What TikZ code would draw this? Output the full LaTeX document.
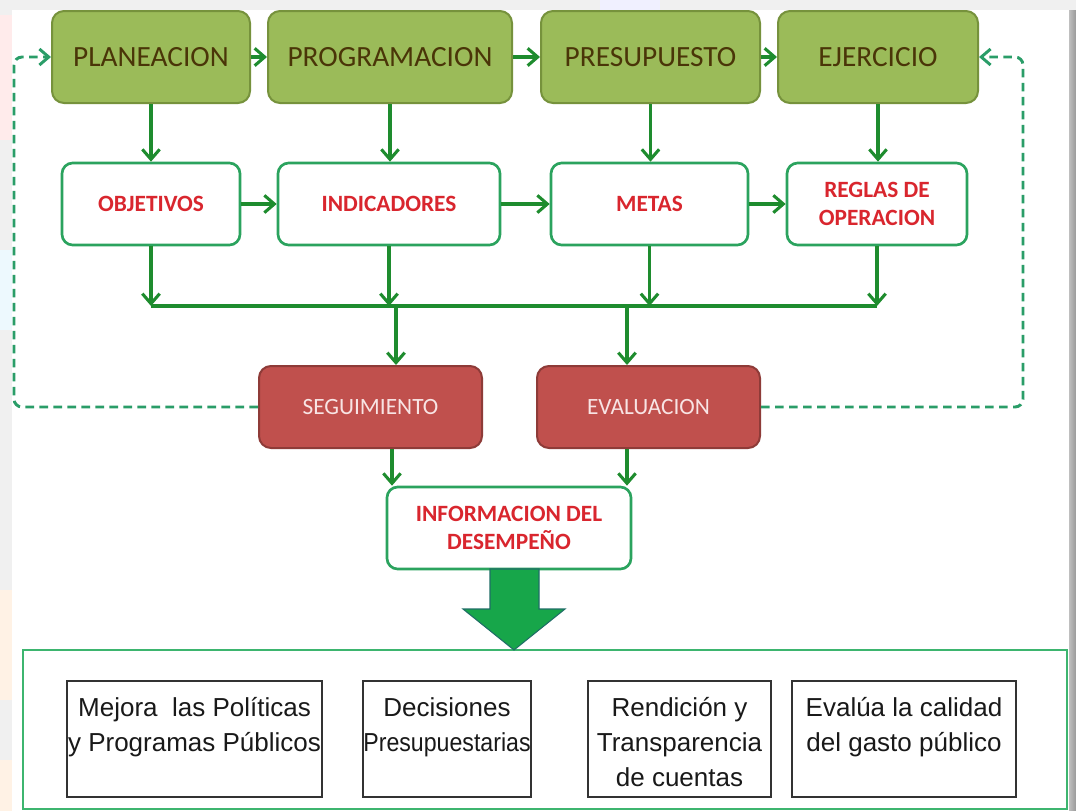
\documentclass[tikz,border=0pt]{standalone}
\usepackage{fontspec}
\usepackage{graphicx}
\setmainfont{Liberation Sans}
\newfontfamily\calfont{Carlito}
\usetikzlibrary{arrows.meta}
\definecolor{topfill}{HTML}{9BBB59}
\definecolor{topbd}{HTML}{76923C}
\definecolor{toptext}{HTML}{4A3508}
\definecolor{midbd}{HTML}{2BA35E}
\definecolor{redtext}{HTML}{D9262E}
\definecolor{redfill}{HTML}{C0504D}
\definecolor{redbd}{HTML}{8E3B38}
\definecolor{redtxt}{HTML}{F8E4E4}
\definecolor{arrgreen}{HTML}{1E8C2E}
\definecolor{dashgreen}{HTML}{2A9D68}
\definecolor{bigfill}{HTML}{17A64A}
\definecolor{bigbd}{HTML}{1F6E66}
\definecolor{panelgreen}{HTML}{3DB56F}
\definecolor{outbd}{HTML}{333333}
\definecolor{bggray}{HTML}{F0F0F0}
\begin{document}
\begin{tikzpicture}[x=0.75pt,y=-0.75pt,
  topbox/.style={draw=topbd, fill=topfill, line width=1.5pt, rounded corners=9pt, minimum height=69pt, text=toptext, font=\calfont\fontsize{22}{26}\selectfont},
  midbox/.style={draw=midbd, fill=white, line width=2pt, rounded corners=8pt, minimum height=61.5pt, text=redtext, font=\calfont\bfseries\fontsize{17.5}{20.5}\selectfont, align=center},
  redbox/.style={draw=redbd, fill=redfill, line width=1.5pt, rounded corners=9pt, minimum height=61.5pt, minimum width=167.25pt, text=redtxt, font=\calfont\fontsize{17.5}{21}\selectfont},
  outbox/.style={draw=outbd, line width=1.1pt, fill=white, minimum height=87pt},
  outtext/.style={font=\fontsize{19.5}{26.25}\selectfont, align=center, text=black!90, anchor=north, inner sep=0pt},
  arr/.style={draw=arrgreen, line width=2.3pt, -{Straight Barb[length=7.5pt,width=13pt]}},
  busline/.style={draw=arrgreen, line width=2.3pt},
  fb/.style={draw=dashgreen, line width=2.2pt, dash pattern=on 6.5pt off 4pt, rounded corners=6pt, -{Straight Barb[length=7pt,width=12pt]}},
  panel/.style={draw=panelgreen, line width=2pt, fill=white}
]
\useasboundingbox (0,0) rectangle (1076,811);
% background
\fill[bggray] (0,0) rectangle (1076,811);
\fill[red!8] (0,15) rectangle (12,140);
\fill[cyan!7] (0,250) rectangle (12,330);
\fill[orange!10] (0,590) rectangle (12,700);
\fill[orange!10] (0,760) rectangle (12,811);
\fill[blue!6] (600,0) rectangle (660,10);
\fill[white] (12,10) rectangle (1069,811);
\shade[left color=gray!50, right color=gray!80] (1069,10) rectangle (1076,811);

% top row
\node[topbox, minimum width=148.5pt] (plan) at (151,57) {PLANEACION};
\node[topbox, minimum width=183pt] (prog) at (390,57) {PROGRAMACION};
\node[topbox, minimum width=164.25pt] (pres) at (650.5,57) {PRESUPUESTO};
\node[topbox, minimum width=150pt] (ejer) at (878,57) {EJERCICIO};

% middle row
\node[midbox, minimum width=133.5pt] (obj) at (151,204) {OBJETIVOS};
\node[midbox, minimum width=166.5pt] (ind) at (389,204) {INDICADORES};
\node[midbox, minimum width=147.75pt] (metas) at (649.5,204) {METAS};
\node[midbox, minimum width=135pt] (reglas) at (877,204) {REGLAS DE\\OPERACION};

% red row
\node[redbox] (seg) at (370.5,407) {SEGUIMIENTO};
\node[redbox] (eval) at (648.5,407) {EVALUACION};

% info
\node[midbox, minimum width=183pt, font=\calfont\bfseries\fontsize{17.5}{21}\selectfont] (info) at (509,528) {INFORMACION DEL\\DESEMPEÑO};

% arrows top row
\draw[arr] (plan) -- (prog);
\draw[arr] (prog) -- (pres);
\draw[arr] (pres) -- (ejer);
% top to middle
\draw[arr] (plan.south) -- (plan.south |- obj.north);
\draw[arr] (prog.south) -- (prog.south |- ind.north);
\draw[arr] (pres.south) -- (pres.south |- metas.north);
\draw[arr] (ejer.south) -- (ejer.south |- reglas.north);
% middle row
\draw[arr] (obj) -- (ind);
\draw[arr] (ind) -- (metas);
\draw[arr] (metas) -- (reglas);
% bus
\coordinate (bus) at (0,306);
\draw[busline] (obj.south |- bus) -- (reglas.south |- bus);
\draw[arr] (obj.south) -- (obj.south |- bus);
\draw[arr] (ind.south) -- (ind.south |- bus);
\draw[arr] (metas.south) -- (metas.south |- bus);
\draw[arr] (reglas.south) -- (reglas.south |- bus);
\coordinate (s1) at (396,306);
\coordinate (e1) at (627,306);
\draw[arr] (s1) -- (s1 |- seg.north);
\draw[arr] (e1) -- (e1 |- eval.north);
\coordinate (s2) at (392,0);
\coordinate (e2) at (627,0);
\draw[arr] (s2 |- seg.south) -- (s2 |- info.north);
\draw[arr] (e2 |- eval.south) -- (e2 |- info.north);

% feedback dashed
\coordinate (lft) at (14,0);
\coordinate (rgt) at (1023,0);
\draw[fb] (seg.west) -| (lft |- plan.west) -- (plan.west);
\draw[fb] (eval.east) -| (rgt |- ejer.east) -- (ejer.east);

% bottom panel
\node[panel, minimum width=783pt, minimum height=119.25pt] (pnl) at (545,729.5) {};

% big arrow
\draw[fill=bigfill, draw=bigbd, line width=0.8pt, line join=miter]
  (490,569) -- (539,569) -- (539,609) -- (565,609) -- (514,650) -- (463,609) -- (490,609) -- cycle;

% output boxes
\node[outbox, minimum width=191.25pt] (r1) at (194.5,739) {};
\node[outbox, minimum width=126pt] (r2) at (447,739) {};
\node[outbox, minimum width=137.25pt] (r3) at (679.5,739) {};
\node[outbox, minimum width=168pt] (r4) at (904,739) {};
\node[outtext] (t1) at (194.5,697) {Mejora\ \ las Políticas\\y Programas Públicos};
\node[outtext] (t2) at (447,697) {Decisiones\\\scalebox{0.89}[1]{Presupuestarias}};
\node[outtext] (t3) at (679.5,697) {Rendición y\\Transparencia\\de cuentas};
\node[outtext] (t4) at (904,697) {Evalúa la calidad\\del gasto público};
\end{tikzpicture}
\end{document}
